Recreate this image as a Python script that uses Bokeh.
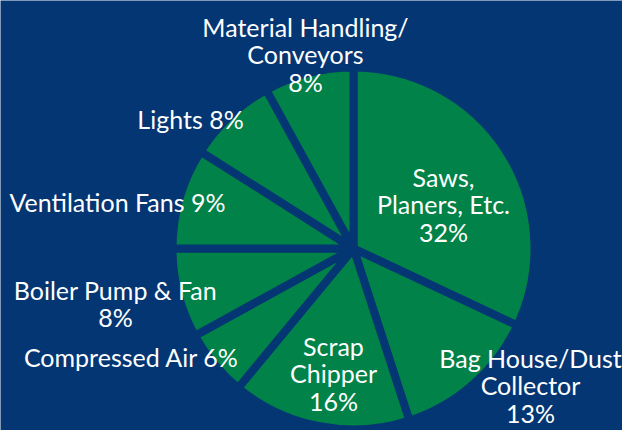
import math
from bokeh.plotting import figure
from bokeh.models import ColumnDataSource, Range1d
from bokeh.core.properties import value
from bokeh.embed import file_html
from bokeh.resources import INLINE

# ---- data ----
categories = ["Saws, Planers, Etc.", "Bag House/Dust Collector", "Scrap Chipper",
              "Compressed Air", "Boiler Pump & Fan", "Ventilation Fans",
              "Lights", "Material Handling/Conveyors"]
shares = [32, 13, 16, 6, 8, 9, 8, 8]
label_texts = ["Saws,\nPlaners, Etc.\n32%", "Bag House/Dust\nCollector\n13%",
               "Scrap\nChipper\n16%", "Compressed Air 6%", "Boiler Pump & Fan\n8%",
               "Ventilation Fans 9%", "Lights 8%", "Material Handling/\nConveyors\n8%"]

# ---- layout (screen-pixel positions of label centres) ----
W, H = 622, 430
label_px = [(443, 204), (530, 385), (333, 373), (131, 356), (115, 303),
            (117, 201), (190, 118), (305, 54)]
center_px = (353, 248)
radius = 181

BG = "#043673"
GREEN = "#008248"

def to_data(px, py):
    return px, H - py

cx, cy = to_data(*center_px)
total = float(sum(shares))
starts, ends = [], []
cum = 0.0
for s in shares:
    a0 = math.pi / 2 - 2 * math.pi * (cum + s) / total
    a1 = math.pi / 2 - 2 * math.pi * cum / total
    starts.append(a0)
    ends.append(a1)
    cum += s

src = ColumnDataSource(dict(cat=categories, share=shares, start=starts, end=ends))

p = figure(width=W, height=H, output_backend="svg", toolbar_location=None,
           x_range=Range1d(0, W), y_range=Range1d(0, H), min_border=0,
           background_fill_color=BG, border_fill_color=BG)
p.axis.visible = False
p.grid.visible = False
p.outline_line_color = None

p.wedge(x=cx, y=cy, radius=radius, start_angle="start", end_angle="end",
        source=src, fill_color=GREEN, line_color=BG, line_width=8)

lx, ly = zip(*[to_data(a, b) for a, b in label_px])
lsrc = ColumnDataSource(dict(x=list(lx), y=list(ly), t=label_texts))
p.text(x="x", y="y", text="t", source=lsrc, text_color="white",
       text_font=value("Lato"), text_font_size="25px", text_align="center",
       text_baseline="middle", text_line_height=0.93)

html = file_html(p, INLINE)
html = html.replace("<body>", '<body style="background:%s">' % BG, 1)
open("out.html", "w").write(html)
